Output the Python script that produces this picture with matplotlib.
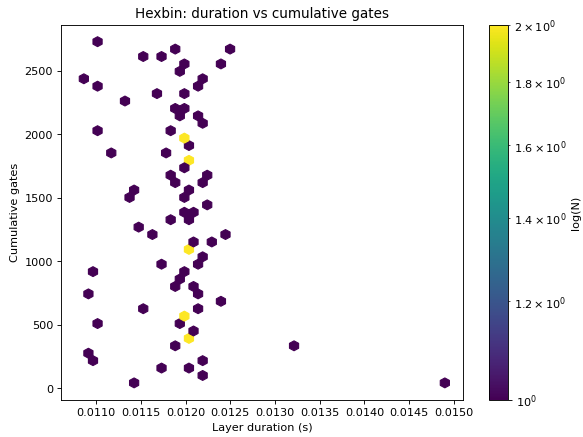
import matplotlib
matplotlib.use('Agg')
from matplotlib import pyplot as plt

# layer duration (s) and cumulative gate count for each layer
duration = [0.011015, 0.011526, 0.011730, 0.011884, 0.012497, 0.011986, 0.012395,
            0.011935, 0.010810, 0.012190, 0.011015, 0.012139, 0.011679, 0.011986,
            0.011321, 0.011884, 0.011986, 0.011935, 0.012139, 0.012190, 0.011015,
            0.011833, 0.011986, 0.011990, 0.012037, 0.011168, 0.011781, 0.012037,
            0.012040, 0.011986, 0.011833, 0.012242, 0.011884, 0.012190, 0.011424,
            0.012037, 0.011372, 0.011986, 0.012242, 0.011986, 0.012088, 0.011833,
            0.012037, 0.011475, 0.011628, 0.012446, 0.012088, 0.012293, 0.012037,
            0.012030, 0.012190, 0.011730, 0.012139, 0.010963, 0.011986, 0.011935,
            0.011884, 0.012088, 0.010912, 0.012139, 0.012395, 0.011526, 0.012139,
            0.011986, 0.011990, 0.011015, 0.011935, 0.012088, 0.012037, 0.012040,
            0.011884, 0.013213, 0.010912, 0.010963, 0.012190, 0.011730, 0.012037,
            0.012190, 0.011424, 0.014900]
gates = [2730, 2613, 2613, 2672, 2672, 2555, 2555,
         2496, 2438, 2438, 2379, 2379, 2321, 2321,
         2262, 2204, 2204, 2146, 2146, 2087, 2029,
         2029, 1970, 1968, 1912, 1853, 1853, 1795,
         1790, 1737, 1678, 1678, 1620, 1620, 1561,
         1561, 1503, 1503, 1444, 1386, 1386, 1328,
         1328, 1269, 1211, 1211, 1152, 1152, 1094,
         1090, 1035, 977, 977, 918, 918, 860,
         802, 802, 743, 743, 685, 626, 626,
         568, 565, 509, 509, 451, 393, 390,
         334, 334, 276, 217, 217, 159, 159,
         100, 42, 42]

fig = plt.figure(figsize=(7.2, 5.4), dpi=81)
ax = fig.add_axes([0.1046, 0.0847, 0.6895, 0.8581])
cax = fig.add_axes([0.8388, 0.0847, 0.0322, 0.8581])

hb = ax.hexbin(duration, gates, gridsize=40, bins='log', cmap='viridis', mincnt=1)
ax.set_title("Hexbin: duration vs cumulative gates")
ax.set_xlabel("Layer duration (s)")
ax.set_ylabel("Cumulative gates")

cb = fig.colorbar(hb, cax=cax)
cb.set_label("log(N)")

fig.savefig("out.png", dpi=fig.dpi)
